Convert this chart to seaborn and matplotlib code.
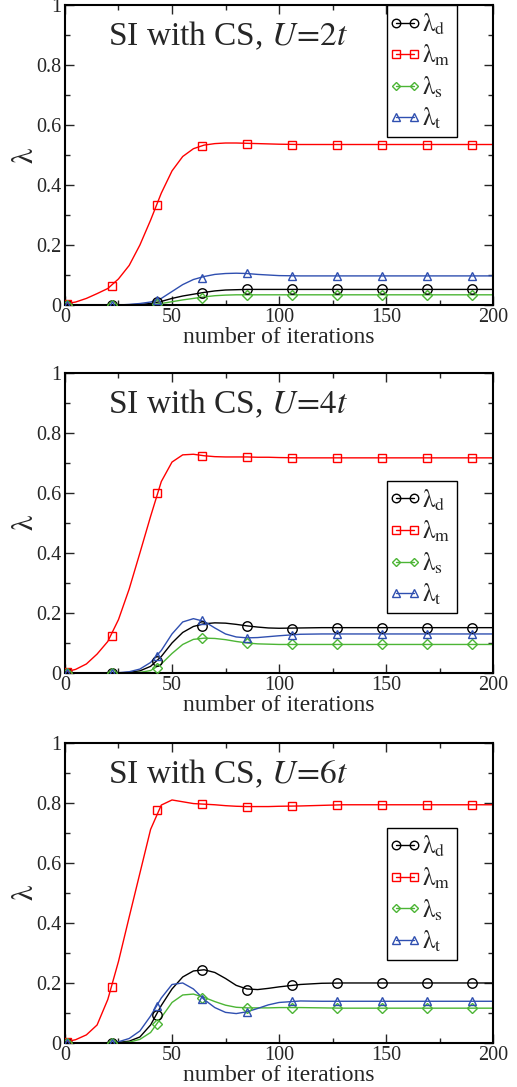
import numpy as np
import pandas as pd
import seaborn as sns
import matplotlib.pyplot as plt
from matplotlib.lines import Line2D
from matplotlib.legend_handler import HandlerLine2D

# iteration grid for the curves, and the iterations carrying markers
grid = [0, 5, 10, 15, 20, 25, 30, 35, 40, 45, 50, 55, 60, 65, 70, 75, 80, 85, 90, 95, 100,
        110, 120, 130, 140, 150, 160, 170, 180, 190, 200]
marks = [1, 22, 43, 64, 85, 106, 127, 148, 169, 190]

# U = 2t
u2_d = [0, 0, 0, 0, 0, 0, 0.001, 0.002, 0.005, 0.012, 0.022, 0.030, 0.036, 0.042, 0.047, 0.050, 0.051, 0.052, 0.052, 0.052, 0.052,
        0.052, 0.052, 0.052, 0.052, 0.052, 0.052, 0.052, 0.052, 0.052, 0.052]
u2_m = [0.004, 0.010, 0.022, 0.038, 0.055, 0.087, 0.132, 0.200, 0.283, 0.373, 0.447, 0.495, 0.521, 0.533, 0.538, 0.540, 0.540, 0.539, 0.538, 0.537, 0.536,
        0.535, 0.535, 0.535, 0.535, 0.535, 0.535, 0.535, 0.535, 0.535, 0.535]
u2_s = [0, 0, 0, 0, 0, 0, 0, 0, 0.001, 0.005, 0.011, 0.017, 0.022, 0.027, 0.031, 0.033, 0.034, 0.034, 0.034, 0.034, 0.034,
        0.034, 0.034, 0.034, 0.034, 0.034, 0.034, 0.034, 0.034, 0.034, 0.034]
u2_t = [0, 0, 0, 0, 0, 0, 0.002, 0.005, 0.010, 0.022, 0.045, 0.068, 0.085, 0.095, 0.102, 0.105, 0.106, 0.105, 0.102, 0.100, 0.098,
        0.097, 0.097, 0.097, 0.097, 0.097, 0.097, 0.097, 0.097, 0.097, 0.097]
u2_md = [0, 0, 0.010, 0.039, 0.052, 0.052, 0.052, 0.052, 0.052, 0.052]
u2_mm = [0.004, 0.063, 0.333, 0.530, 0.537, 0.535, 0.535, 0.535, 0.535, 0.535]
u2_ms = [0, 0, 0.002, 0.024, 0.033, 0.034, 0.034, 0.034, 0.034, 0.034]
u2_mt = [0, 0, 0.017, 0.091, 0.106, 0.098, 0.097, 0.097, 0.097, 0.097]

# U = 4t
u4_d = [0, 0, 0, 0, 0, 0, 0.002, 0.007, 0.022, 0.055, 0.100, 0.135, 0.155, 0.164, 0.167, 0.166, 0.162, 0.157, 0.153, 0.150, 0.149,
        0.150, 0.151, 0.151, 0.151, 0.151, 0.151, 0.151, 0.151, 0.151, 0.151]
u4_m = [0.003, 0.012, 0.030, 0.063, 0.105, 0.178, 0.280, 0.400, 0.522, 0.638, 0.703, 0.727, 0.729, 0.724, 0.721, 0.720, 0.720, 0.720, 0.719, 0.719, 0.718,
        0.717, 0.717, 0.717, 0.717, 0.717, 0.717, 0.717, 0.717, 0.717, 0.717]
u4_s = [0, 0, 0, 0, 0, 0, 0, 0.002, 0.008, 0.030, 0.065, 0.095, 0.112, 0.116, 0.115, 0.111, 0.105, 0.100, 0.097, 0.096, 0.095,
        0.095, 0.095, 0.095, 0.095, 0.095, 0.095, 0.095, 0.095, 0.095, 0.095]
u4_t = [0, 0, 0, 0, 0, 0.001, 0.004, 0.013, 0.035, 0.075, 0.130, 0.170, 0.181, 0.172, 0.150, 0.130, 0.120, 0.117, 0.118, 0.121, 0.124,
        0.129, 0.130, 0.130, 0.130, 0.130, 0.130, 0.130, 0.130, 0.130, 0.130]
u4_md = [0, 0, 0.039, 0.156, 0.156, 0.148, 0.151, 0.151, 0.151, 0.151]
u4_mm = [0.003, 0.124, 0.601, 0.722, 0.720, 0.717, 0.717, 0.717, 0.717, 0.717]
u4_ms = [0, 0, 0.017, 0.115, 0.100, 0.095, 0.095, 0.095, 0.095, 0.095]
u4_mt = [0, 0, 0.056, 0.176, 0.117, 0.127, 0.130, 0.130, 0.130, 0.130]

# U = 6t
u6_d = [0, 0, 0, 0, 0, 0.002, 0.006, 0.020, 0.060, 0.125, 0.180, 0.220, 0.240, 0.244, 0.235, 0.215, 0.192, 0.180, 0.178, 0.182, 0.187,
        0.195, 0.199, 0.200, 0.200, 0.200, 0.200, 0.200, 0.200, 0.200, 0.200]
u6_m = [0.003, 0.011, 0.027, 0.060, 0.145, 0.272, 0.420, 0.566, 0.712, 0.793, 0.810, 0.804, 0.798, 0.796, 0.794, 0.791, 0.789, 0.788, 0.788, 0.788, 0.789,
        0.790, 0.792, 0.794, 0.794, 0.794, 0.794, 0.794, 0.794, 0.794, 0.794]
u6_s = [0, 0, 0, 0, 0, 0, 0.003, 0.012, 0.035, 0.085, 0.135, 0.160, 0.163, 0.152, 0.138, 0.126, 0.119, 0.117, 0.117, 0.117, 0.118,
        0.118, 0.117, 0.116, 0.116, 0.116, 0.116, 0.116, 0.116, 0.116, 0.116]
u6_t = [0, 0, 0, 0, 0.001, 0.004, 0.015, 0.040, 0.090, 0.150, 0.195, 0.200, 0.180, 0.145, 0.118, 0.102, 0.098, 0.104, 0.115, 0.127, 0.135,
        0.140, 0.139, 0.139, 0.139, 0.139, 0.139, 0.139, 0.139, 0.139, 0.139]
u6_md = [0, 0, 0.092, 0.243, 0.178, 0.193, 0.200, 0.200, 0.200, 0.200]
u6_mm = [0.003, 0.187, 0.777, 0.796, 0.788, 0.790, 0.794, 0.794, 0.794, 0.794]
u6_ms = [0, 0, 0.062, 0.151, 0.118, 0.118, 0.116, 0.116, 0.116, 0.116]
u6_mt = [0, 0, 0.124, 0.146, 0.104, 0.140, 0.139, 0.139, 0.139, 0.139]

titles = ['SI with CS, $\\mathit{U}\\!=\\!\\mathit{2t}$',
          'SI with CS, $\\mathit{U}\\!=\\!\\mathit{4t}$',
          'SI with CS, $\\mathit{U}\\!=\\!\\mathit{6t}$']
labels = ['$\\mathrm{λ}_{\\rm d}$', '$\\mathrm{λ}_{\\rm m}$', '$\\mathrm{λ}_{\\rm s}$', '$\\mathrm{λ}_{\\rm t}$']

sns.set_style('ticks')
plt.rcParams['font.family'] = ['Liberation Serif', 'DejaVu Serif']
plt.rcParams['mathtext.fontset'] = 'stix'

colors = ['black', '#ff0000', '#4cb535', '#2f4fb0']
symbols = ['o', 's', 'D', '^']
msizes = [6.8, 5.8, 4.8, 6.2]

panels = [
    ([u2_d, u2_m, u2_s, u2_t], [u2_md, u2_mm, u2_ms, u2_mt]),
    ([u4_d, u4_m, u4_s, u4_t], [u4_md, u4_mm, u4_ms, u4_mt]),
    ([u6_d, u6_m, u6_s, u6_t], [u6_md, u6_mm, u6_ms, u6_mt]),
]
bottoms = [0.7194, 0.3809, 0.0405]
legend_tops = [1.0, 0.64, 0.717]

fig = plt.figure(figsize=(5.17, 10.87), dpi=100)

for k, (lines, pts) in enumerate(panels):
    ax = fig.add_axes([0.1257, bottoms[k], 0.828, 0.276])

    for vals, mvals, c, sym, ms in zip(lines, pts, colors, symbols, msizes):
        sns.lineplot(x=grid, y=vals, color=c, lw=1.0, ax=ax)
        ax.plot(marks, mvals, linestyle='none', marker=sym, ms=ms, mfc='none',
                mec=c, mew=1.0, zorder=3)

    ax.set_xlim(0, 200)
    ax.set_ylim(0, 1)
    ax.set_xticks([0, 50, 100, 150, 200])
    ax.set_xticks([25, 75, 125, 175], minor=True)
    ax.set_yticks([0, 0.2, 0.4, 0.6, 0.8, 1])
    ax.set_yticklabels(['0', '0.2', '0.4', '0.6', '0.8', '1'])
    ax.set_yticks([0.1, 0.3, 0.5, 0.7, 0.9], minor=True)
    ax.tick_params(which='both', direction='in', top=True, right=True, labelsize=14.5, pad=2.5)
    ax.tick_params(which='major', length=6.5, width=1.0)
    ax.tick_params(which='minor', length=3.5, width=1.0)
    for s in ax.spines.values():
        s.set_linewidth(1.5)
        s.set_color('black')

    ax.set_xlabel('number of iterations', fontsize=17, labelpad=0)
    ax.set_ylabel('$\\mathrm{λ}$', fontsize=22, labelpad=-3)
    ax.text(0.1, 0.865, titles[k], transform=ax.transAxes, fontsize=24)

    handles = [Line2D([], [], color=c, lw=1.0, marker=sym, ms=ms * 0.9, mfc='none', mec=c)
               for c, sym, ms in zip(colors, symbols, msizes)]
    leg = ax.legend(handles, labels, loc='upper left', bbox_to_anchor=(0.752, legend_tops[k]),
                    numpoints=2, fontsize=18, handlelength=0.95, handletextpad=0.2,
                    labelspacing=0.25, borderpad=0.25, borderaxespad=0,
                    frameon=True, fancybox=False, framealpha=1,
                    handler_map={Line2D: HandlerLine2D(marker_pad=0.1)})
    leg.get_frame().set_edgecolor('black')
    leg.get_frame().set_linewidth(1.0)

fig.savefig('out.png', dpi=100)
